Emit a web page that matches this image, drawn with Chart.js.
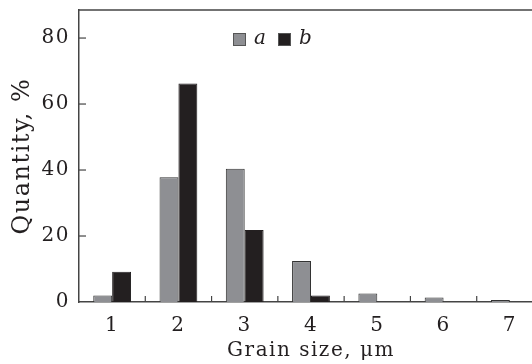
<!DOCTYPE html>
<html>
<head>
<meta charset="utf-8">
<script src="https://cdn.jsdelivr.net/npm/chart.js@4"></script>
<style>
  html, body { margin: 0; padding: 0; background: #fff; overflow: hidden; }
  #wrap { width: 560px; height: 364px; position: relative; }
</style>
</head>
<body>
<div id="wrap"><canvas id="grainChart"></canvas></div>
<script>
// categories and series
const categorias = ['1', '2', '3', '4', '5', '6', '7'];
const serieA = [2, 37.8, 40.4, 12.4, 2.6, 1.4, 0.6];
const serieB = [9.2, 66.2, 21.8, 2, 0, 0, 0];
const ticksY = [0, 20, 40, 60, 80];

const serif = "'DejaVu Serif', 'Liberation Serif', serif";
const ejeColor = '#444';

// espaciado de letras un poco mas abierto, como en la figura
const espaciado = {
  id: 'espaciado',
  beforeDraw(chart) { chart.ctx.letterSpacing = '1.5px'; },
  afterDraw(chart) { chart.ctx.letterSpacing = '0px'; },
};

// ticks hacia adentro, borde superior y leyenda
const extras = {
  id: 'extras',
  afterDraw(chart) {
    const ctx = chart.ctx;
    const area = chart.chartArea;
    const x = chart.scales.x;
    const y = chart.scales.y;
    ctx.save();
    ctx.strokeStyle = ejeColor;
    ctx.lineWidth = 1.5;
    // borde superior
    ctx.beginPath();
    ctx.moveTo(area.left, area.top);
    ctx.lineTo(area.right, area.top);
    ctx.stroke();
    // ticks del eje y
    ctx.lineWidth = 1.2;
    y.ticks.forEach((t, i) => {
      if (t.value === 0) return;
      const py = y.getPixelForTick(i);
      ctx.beginPath();
      ctx.moveTo(area.left, py);
      ctx.lineTo(area.left + 7, py);
      ctx.stroke();
    });
    // separadores entre categorias
    for (let i = 0; i < x.ticks.length - 1; i++) {
      const px = (x.getPixelForTick(i) + x.getPixelForTick(i + 1)) / 2;
      ctx.beginPath();
      ctx.moveTo(px, area.bottom);
      ctx.lineTo(px, area.bottom - 6);
      ctx.stroke();
    }
    // leyenda
    let lx = 233;
    const ly = 33;
    ctx.font = 'italic 20px ' + serif;
    ctx.textBaseline = 'middle';
    chart.data.datasets.forEach(ds => {
      ctx.fillStyle = ds.backgroundColor;
      ctx.fillRect(lx, ly, 13, 13);
      ctx.strokeStyle = '#555';
      ctx.lineWidth = 1;
      ctx.strokeRect(lx + 0.5, ly + 0.5, 12, 12);
      ctx.fillStyle = '#231f20';
      ctx.fillText(ds.label, lx + 21, ly + 6);
      lx += 45;
    });
    ctx.restore();
  }
};

const ctx = document.getElementById('grainChart').getContext('2d');
const chart = new Chart(ctx, {
  type: 'bar',
  data: {
    labels: categorias,
    datasets: [
      {
        label: 'a',
        data: serieA,
        backgroundColor: '#8e8f93',
        borderColor: '#333',
        borderWidth: 1,
      },
      {
        label: 'b',
        data: serieB,
        backgroundColor: '#231f20',
        borderColor: '#231f20',
        borderWidth: 1,
      },
    ],
  },
  options: {
    responsive: true,
    maintainAspectRatio: false,
    animation: false,
    layout: { padding: { left: 0, top: 10, right: 17, bottom: 0 } },
    categoryPercentage: 0.57,
    barPercentage: 1.0,
    plugins: {
      legend: { display: false },
      tooltip: { enabled: false },
    },
    scales: {
      x: {
        offset: true,
        grid: { display: false, drawTicks: false },
        border: { color: ejeColor, width: 1.5 },
        ticks: {
          color: '#231f20',
          font: { family: serif, size: 20 },
          padding: 12,
        },
        title: {
          display: true,
          text: 'Grain size, μm',
          color: '#231f20',
          font: { family: serif, size: 20 },
          padding: { top: 0, bottom: 1 },
        },
        afterFit(scale) {
          scale.height = 62;
          scale.paddingLeft = 0;
          scale.paddingRight = 0;
        },
      },
      y: {
        min: 0,
        max: 88.5,
        afterBuildTicks(scale) {
          scale.ticks = ticksY.map(v => ({ value: v }));
        },
        grid: { display: false, drawTicks: false },
        border: { color: ejeColor, width: 1.5 },
        ticks: {
          color: '#231f20',
          font: { family: serif, size: 20 },
          padding: 9,
        },
        title: {
          display: true,
          text: 'Quantity, %',
          color: '#231f20',
          font: { family: serif, size: 24 },
          padding: { top: 8, bottom: 0 },
        },
        afterFit(scale) {
          scale.width = 79;
          scale.paddingTop = 0;
          scale.paddingBottom = 0;
        },
      },
    },
  },
  plugins: [espaciado, extras],
});
</script>
</body>
</html>
